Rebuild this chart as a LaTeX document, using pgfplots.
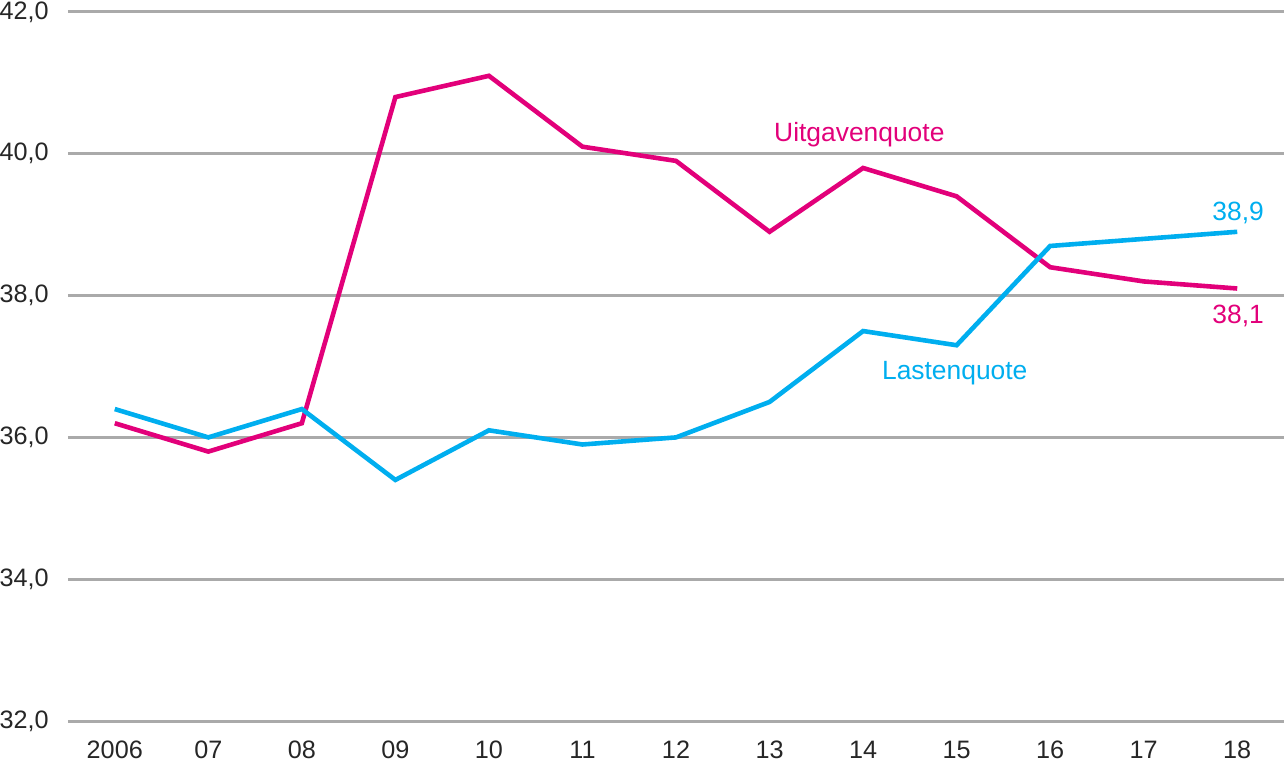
\documentclass[border=0pt]{standalone}
\usepackage{pgfplots}
\pgfplotsset{compat=1.18}
\usepackage{fontspec}
\setmainfont{Liberation Sans}
\definecolor{mag}{HTML}{E2007A}
\definecolor{cya}{HTML}{00AEEF}
\definecolor{grd}{HTML}{AAAAAA}
\begin{document}
\begin{tikzpicture}
\begin{axis}[
  name=ax,
  scale only axis,
  width=608pt, height=354.5pt,
  xmin=-0.5, xmax=12.5,
  ymin=32, ymax=42,
  axis line style={draw=none},
  major tick length=0pt,
  ytick={32,34,36,38,40,42},
  xtick={0,...,12},
  xticklabels={2006,07,08,09,10,11,12,13,14,15,16,17,18},
  ymajorgrids,
  grid style={grd, line width=1.5pt},
  yticklabel style={/pgf/number format/fixed, /pgf/number format/fixed zerofill, /pgf/number format/precision=1, /pgf/number format/use comma, /pgf/number format/assume math mode=true},
  font=\fontsize{12.6pt}{14pt}\selectfont,
  yticklabel style={anchor=east, inner sep=0pt, xshift=-9.5pt, text=black!85},
  xticklabel style={anchor=base, inner sep=0pt, yshift=-18.5pt, text=black!85},
  clip=false,
]
\addplot[mag, line width=2.3pt] coordinates {
(0,36.2) (1,35.8) (2,36.2) (3,40.8) (4,41.1) (5,40.1) (6,39.9) (7,38.9) (8,39.8) (9,39.4) (10,38.4) (11,38.2) (12,38.1)};
\addplot[cya, line width=2.3pt] coordinates {
(0,36.4) (1,36.0) (2,36.4) (3,35.4) (4,36.1) (5,35.9) (6,36.0) (7,36.5) (8,37.5) (9,37.3) (10,38.7) (11,38.8) (12,38.9)};
\node[text=mag, font=\fontsize{13.2pt}{15pt}\selectfont] at (axis cs:7.96,40.27) {Uitgavenquote};
\node[text=cya, font=\fontsize{13.2pt}{15pt}\selectfont] at (axis cs:8.98,36.90) {Lastenquote};
\node[text=cya, font=\fontsize{13.2pt}{15pt}\selectfont] at (axis cs:12.01,39.16) {38,9};
\node[text=mag, font=\fontsize{13.2pt}{15pt}\selectfont] at (axis cs:12.01,37.71) {38,1};
\end{axis}
\pgfresetboundingbox
\path ([shift={(-34pt,-23pt)}]ax.south west) rectangle ([shift={(0pt,6pt)}]ax.north east);
\end{tikzpicture}
\end{document}
